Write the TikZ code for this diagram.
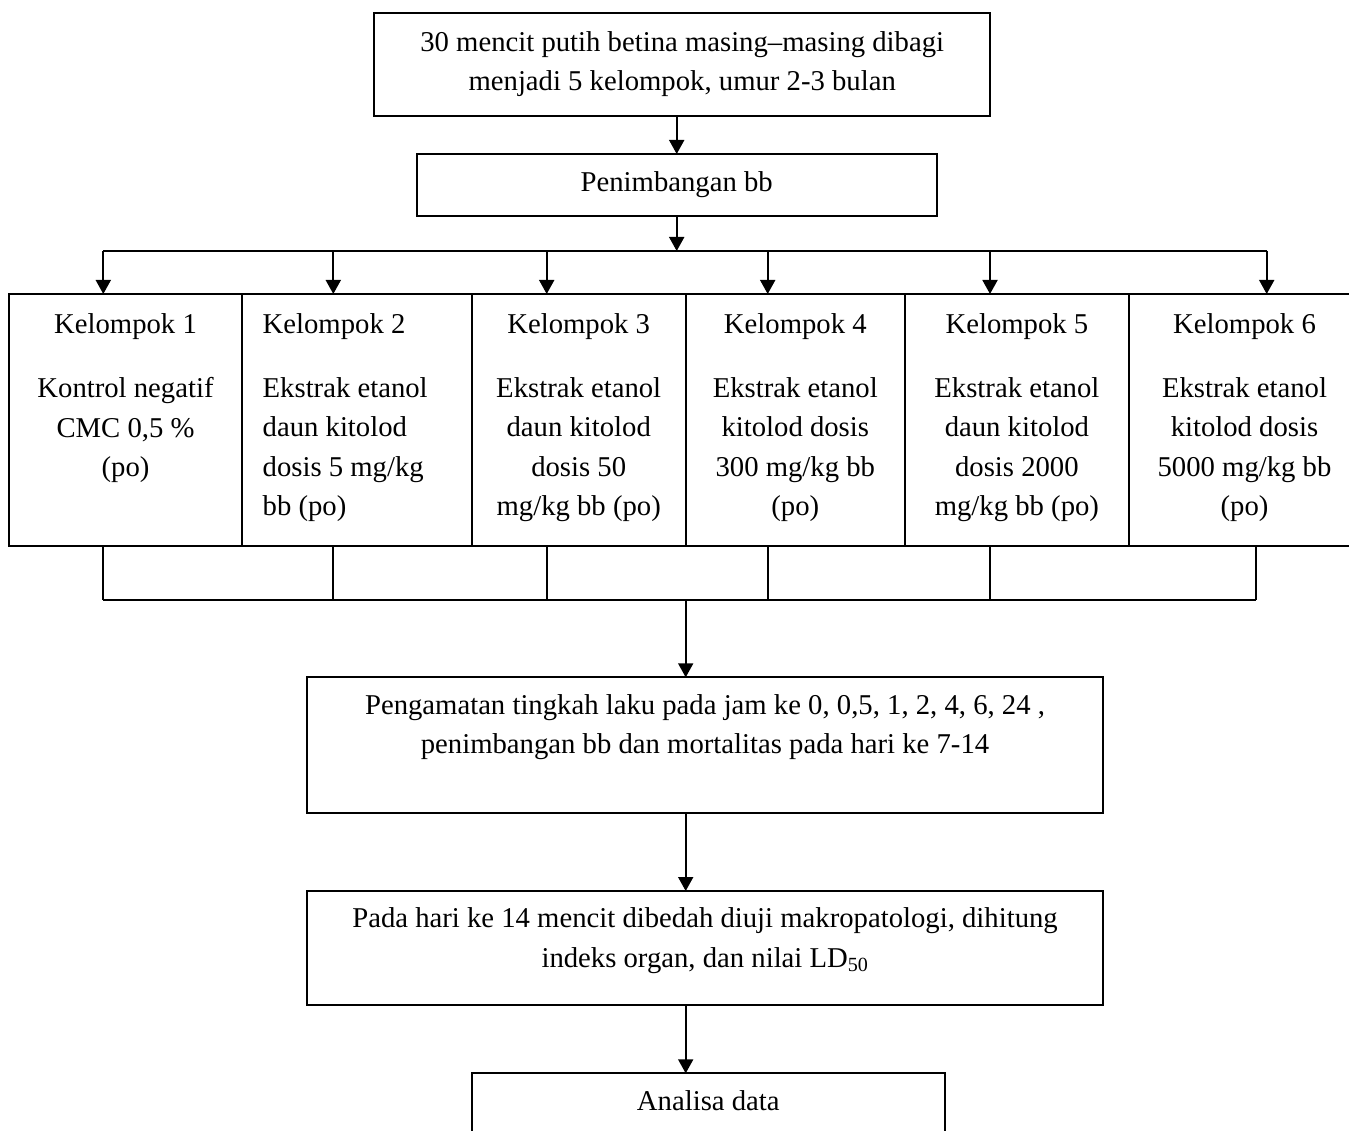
\documentclass[tikz,border=0pt]{standalone}
\usepackage{fontspec}
\setmainfont{Liberation Serif}
\usetikzlibrary{arrows.meta}
\begin{document}
\begin{tikzpicture}[x=1pt,y=-1pt,
  every node/.style={inner sep=0pt, outer sep=0pt, font=\fontsize{28.7}{39.5}\selectfont},
  box/.style={draw, line width=1.8pt, rectangle},
  gbox/.style={box, anchor=north west, minimum height=252pt},
  txt/.style={align=center, anchor=north},
  ltxt/.style={align=left, anchor=north west},
  conn/.style={line width=1.8pt},
  arr/.style={conn, -{Triangle[length=14pt,width=15pt]}}]
\clip (0,0) rectangle (1349,1131);
\fill[white] (0,0) rectangle (1349,1131);

% top boxes
\node[box, minimum width=615.7pt, minimum height=103pt, align=center] (start) at (682.2,64.2)
  {30 mencit putih betina masing--masing dibagi\\menjadi 5 kelompok, umur 2-3 bulan};
\node[box, minimum width=520pt, minimum height=62pt] (pen) at (676.7,185) {Penimbangan bb};

% group boxes
\node[gbox, minimum width=232.4pt] (g1) at (9.3,294) {};
\node[gbox, minimum width=230pt] (g2) at (241.7,294) {};
\node[gbox, minimum width=214pt] (g3) at (471.7,294) {};
\node[gbox, minimum width=219.3pt] (g4) at (685.7,294) {};
\node[gbox, minimum width=223.7pt] (g5) at (905,294) {};
\node[gbox, minimum width=231.3pt] (g6) at (1128.7,294) {};

% group texts
\node[txt] (k1) at (125.5,313.4) {Kelompok 1};
\node[txt] (d1) at (125.5,377.4) {Kontrol negatif\\CMC 0,5 \%\\(po)};
\node[ltxt] (k2) at (262.7,313.4) {Kelompok 2};
\node[ltxt] (d2) at (262.7,377.4) {Ekstrak etanol\\daun kitolod\\dosis 5 mg/kg\\bb (po)};
\node[txt] (k3) at (578.7,313.4) {Kelompok 3};
\node[txt] (d3) at (578.7,377.4) {Ekstrak etanol\\daun kitolod\\dosis 50\\mg/kg bb (po)};
\node[txt] (k4) at (795.3,313.4) {Kelompok 4};
\node[txt] (d4) at (795.3,377.4) {Ekstrak etanol\\kitolod dosis\\300 mg/kg bb\\(po)};
\node[txt] (k5) at (1016.9,313.4) {Kelompok 5};
\node[txt] (d5) at (1016.9,377.4) {Ekstrak etanol\\daun kitolod\\dosis 2000\\mg/kg bb (po)};
\node[txt] (k6) at (1244.5,313.4) {Kelompok 6};
\node[txt] (d6) at (1244.5,377.4) {Ekstrak etanol\\kitolod dosis\\5000 mg/kg bb\\(po)};

% lower boxes
\node[box, anchor=north west, minimum width=796.6pt, minimum height=136pt] (obs) at (306.7,677.3) {};
\node[txt] (obstxt) at (705,694.4) {Pengamatan tingkah laku pada jam ke 0, 0,5, 1, 2, 4, 6, 24 ,\\penimbangan bb dan mortalitas pada hari ke 7-14};
\node[box, anchor=north west, minimum width=796.6pt, minimum height=114pt] (pada) at (306.7,891) {};
\node[txt] (padatxt) at (705,907.7) {Pada hari ke 14 mencit dibedah diuji makropatologi, dihitung\\indeks organ, dan nilai LD\textsubscript{50}};
\node[box, anchor=north west, minimum width=473.3pt, minimum height=90pt] (ana) at (471.7,1073.3) {};
\node[anchor=base] (anatxt) at (708.3,1110) {Analisa data};

% connectors top
\draw[arr] (pen.north |- start.south) -- (pen.north);
\coordinate (split) at (676.7,251);
\draw[arr] (pen.south) -- (split);
\coordinate (t1) at (103.3,251);
\coordinate (t2) at (333.3,251);
\coordinate (t3) at (546.7,251);
\coordinate (t4) at (767.7,251);
\coordinate (t5) at (990,251);
\coordinate (t6) at (1266.7,251);
\draw[conn] (t1) -- (t6);
\foreach \i in {1,...,6} {\draw[arr] (t\i) -- (t\i |- g\i.north);}

% connectors bottom
\coordinate (b1) at (103.3,600);
\coordinate (b2) at (333.3,600);
\coordinate (b3) at (546.7,600);
\coordinate (b4) at (768,600);
\coordinate (b5) at (990,600);
\coordinate (b6) at (1256,600);
\foreach \i in {1,...,6} {\draw[conn] (b\i |- g\i.south) -- (b\i);}
\draw[conn] (b1) -- (b6);
\coordinate (merge) at (685.7,600);
\draw[arr] (merge) -- (merge |- obs.north);
\draw[arr] (merge |- obs.south) -- (merge |- pada.north);
\draw[arr] (merge |- pada.south) -- (merge |- ana.north);
\end{tikzpicture}
\end{document}
